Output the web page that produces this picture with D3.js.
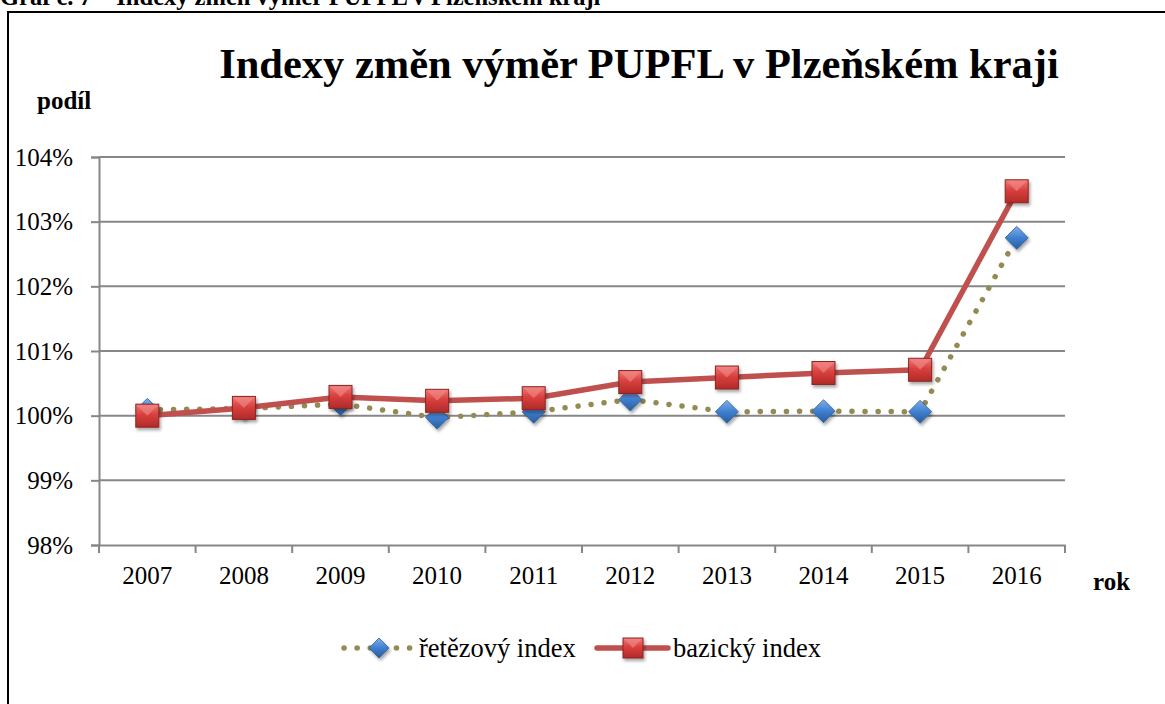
<!DOCTYPE html>
<html>
<head>
<meta charset="utf-8">
<script src="https://cdn.jsdelivr.net/npm/d3@7"></script>
<style>
  body { margin: 0; background: #fff; }
  svg { display: block; }
  svg text { font-family: "Liberation Serif", "Times New Roman", serif; fill: #000; }
</style>
</head>
<body>
<script>
// data
const years = ["2007", "2008", "2009", "2010", "2011", "2012", "2013", "2014", "2015", "2016"];
const chainIndex = [1.0009, 1.0011, 1.0018, 0.9997, 1.0006, 1.0025, 1.0006, 1.0007, 1.0006, 1.0275];
const baseIndex = [1.0000, 1.0012, 1.0029, 1.0023, 1.0027, 1.0052, 1.0059, 1.0066, 1.0071, 1.0347];
const yTicks = [0.98, 0.99, 1.00, 1.01, 1.02, 1.03, 1.04];

const width = 1165, height = 704;
const plotLeft = 99, plotRight = 1065, plotTop = 157, plotBottom = 545;

const svg = d3.select("body").append("svg")
    .attr("width", width)
    .attr("height", height);

const defs = svg.append("defs");
const sqGrad = defs.append("linearGradient").attr("id", "sqGrad")
    .attr("x1", 0).attr("y1", 0).attr("x2", 0).attr("y2", 1);
sqGrad.append("stop").attr("offset", "0%").attr("stop-color", "#ef7a78");
sqGrad.append("stop").attr("offset", "45%").attr("stop-color", "#d9403e");
sqGrad.append("stop").attr("offset", "100%").attr("stop-color", "#b02a28");
const dmGrad = defs.append("linearGradient").attr("id", "dmGrad")
    .attr("x1", 0).attr("y1", 0).attr("x2", 0).attr("y2", 1);
dmGrad.append("stop").attr("offset", "0%").attr("stop-color", "#7fb0e8");
dmGrad.append("stop").attr("offset", "50%").attr("stop-color", "#3f7fcf");
dmGrad.append("stop").attr("offset", "100%").attr("stop-color", "#2a5c9e");
const shadow = defs.append("filter").attr("id", "shadow")
    .attr("x", "-50%").attr("y", "-50%").attr("width", "200%").attr("height", "200%");
shadow.append("feDropShadow").attr("dx", 1.5).attr("dy", 2.5).attr("stdDeviation", 1.5)
    .attr("flood-color", "#000").attr("flood-opacity", 0.35);

// caption above the frame (cut off by the page edge, as in the source)
svg.append("text")
    .attr("x", 0).attr("y", 5)
    .attr("font-size", 24.5).attr("font-weight", "bold")
    .text("Graf č. 7 – Indexy změn výměr PUPFL v Plzeňském kraji");

// chart frame
svg.append("rect")
    .attr("x", 8).attr("y", 12)
    .attr("width", 1170).attr("height", 710)
    .attr("fill", "#fff").attr("stroke", "#000").attr("stroke-width", 2);

const x = d3.scaleBand().domain(years).range([plotLeft, plotRight]);
const y = d3.scaleLinear().domain([0.98, 1.04]).range([plotBottom, plotTop]);
const cx = d => x(d) + x.bandwidth() / 2;

// gridlines
svg.append("g")
    .selectAll("line")
    .data(yTicks.slice(1))
    .enter().append("line")
    .attr("x1", plotLeft).attr("x2", plotRight)
    .attr("y1", d => y(d)).attr("y2", d => y(d))
    .attr("stroke", "#878787").attr("stroke-width", 2);

// y axis
const yAxis = svg.append("g")
    .attr("transform", `translate(${plotLeft},0)`)
    .call(d3.axisLeft(y).tickValues(yTicks).tickSize(8).tickPadding(18)
        .tickFormat(d => Math.round(d * 100) + "%"));
yAxis.attr("font-family", null).attr("font-size", null);
yAxis.select(".domain").attr("stroke", "#878787").attr("stroke-width", 2);
yAxis.selectAll(".tick line").attr("stroke", "#878787").attr("stroke-width", 2);
yAxis.selectAll(".tick text").attr("font-size", 25);

// x axis
const xAxis = svg.append("g")
    .attr("transform", `translate(0,${plotBottom})`)
    .call(d3.axisBottom(x).tickSize(0).tickPadding(21));
xAxis.attr("font-family", null).attr("font-size", null);
xAxis.select(".domain").attr("stroke", "#878787").attr("stroke-width", 2);
xAxis.selectAll(".tick text").attr("font-size", 25);
svg.append("g")
    .selectAll("line")
    .data(years.concat(["end"]))
    .enter().append("line")
    .attr("x1", (d, i) => plotLeft + i * x.bandwidth())
    .attr("x2", (d, i) => plotLeft + i * x.bandwidth())
    .attr("y1", plotBottom).attr("y2", plotBottom + 8)
    .attr("stroke", "#878787").attr("stroke-width", 2);

// titles
svg.append("text")
    .attr("x", 639).attr("y", 78)
    .attr("text-anchor", "middle")
    .attr("font-size", 42.5).attr("font-weight", "bold")
    .text("Indexy změn výměr PUPFL v Plzeňském kraji");
svg.append("text")
    .attr("x", 37).attr("y", 109)
    .attr("font-size", 25).attr("font-weight", "bold")
    .text("podíl");
svg.append("text")
    .attr("x", 1093).attr("y", 590)
    .attr("font-size", 25).attr("font-weight", "bold")
    .text("rok");

const line = d3.line().x((d, i) => cx(years[i])).y(d => y(d));

// chain index: dotted olive line
svg.append("path")
    .datum(chainIndex)
    .attr("d", line)
    .attr("fill", "none")
    .attr("stroke", "#948a54").attr("stroke-width", 5.5)
    .attr("stroke-linecap", "round")
    .attr("stroke-dasharray", "0.1 13");

function diamond(g, px, py, r) {
    g.append("path")
        .attr("d", `M${px},${py - r}L${px + r},${py}L${px},${py + r}L${px - r},${py}Z`)
        .attr("fill", "url(#dmGrad)").attr("stroke", "#2f5f9a").attr("stroke-width", 0.8)
        .attr("filter", "url(#shadow)");
}
function square(g, px, py, r) {
    g.append("rect")
        .attr("x", px - r).attr("y", py - r).attr("width", 2 * r).attr("height", 2 * r)
        .attr("fill", "url(#sqGrad)").attr("stroke", "#8c2523").attr("stroke-width", 1)
        .attr("filter", "url(#shadow)");
    g.append("path")
        .attr("d", `M${px - r + 1},${py - r + 1}L${px},${py}L${px + r - 1},${py - r + 1}Z`)
        .attr("fill", "#f08a88").attr("opacity", 0.6);
}

const dm = svg.append("g");
chainIndex.forEach((d, i) => diamond(dm, cx(years[i]), y(d), 11.5));

// base index: solid red line
svg.append("path")
    .datum(baseIndex)
    .attr("d", line)
    .attr("fill", "none")
    .attr("stroke", "#c0504d").attr("stroke-width", 5.5)
    .attr("stroke-linejoin", "round");

const sq = svg.append("g");
baseIndex.forEach((d, i) => square(sq, cx(years[i]), y(d), 11.5));

// legend
const lg = svg.append("g");
lg.append("line")
    .attr("x1", 344).attr("x2", 412).attr("y1", 648).attr("y2", 648)
    .attr("stroke", "#948a54").attr("stroke-width", 5.5)
    .attr("stroke-linecap", "round").attr("stroke-dasharray", "0.1 13");
diamond(lg, 379, 648, 10);
lg.append("text").attr("x", 419).attr("y", 657)
    .attr("font-size", 26.5).text("řetězový index");
lg.append("line")
    .attr("x1", 597).attr("x2", 668).attr("y1", 648).attr("y2", 648)
    .attr("stroke", "#c0504d").attr("stroke-width", 5.5).attr("stroke-linecap", "round");
square(lg, 633, 648, 10);
lg.append("text").attr("x", 673).attr("y", 657)
    .attr("font-size", 26.5).text("bazický index");
</script>
</body>
</html>
